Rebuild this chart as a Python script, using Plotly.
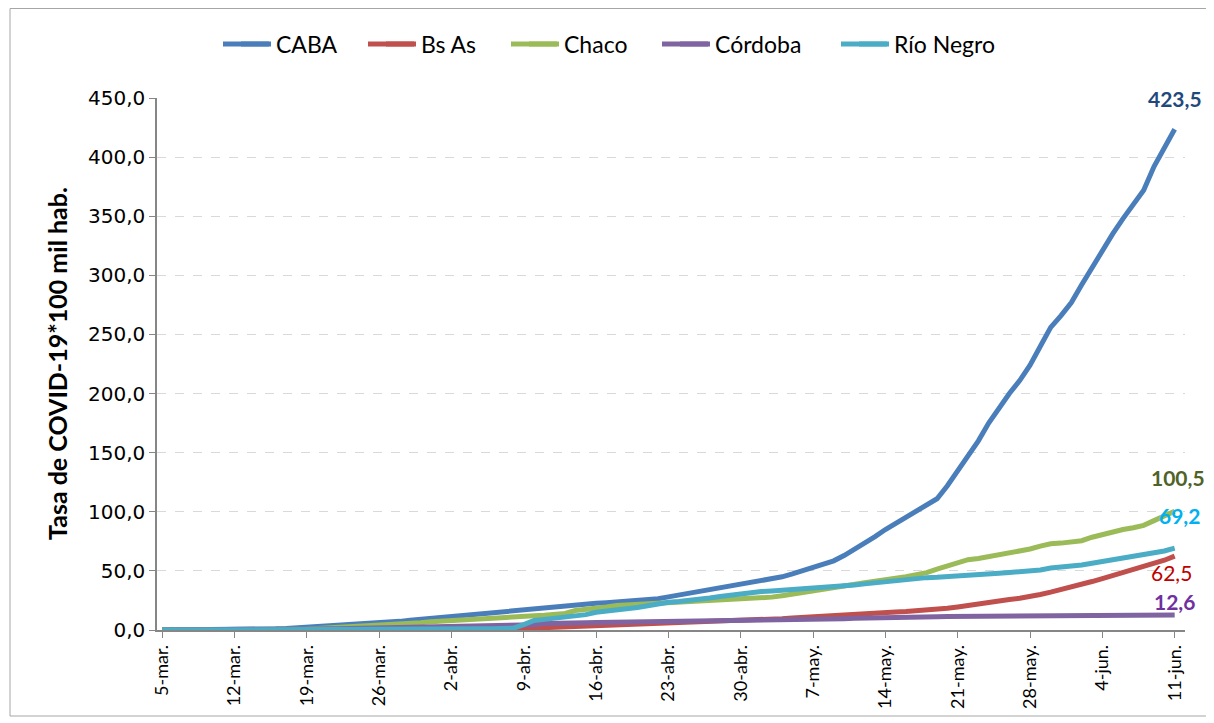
import pandas as pd
import plotly.graph_objects as go

start_date = "2020-03-05"
n_days = 99
dates = pd.date_range(start_date, periods=n_days, freq="D")

caba = [0, 0, 0, 0.1, 0.1, 0.2, 0.3,
        0.4, 0.5, 0.6, 0.8, 1.0, 1.3, 1.8,
        2.3, 2.7, 3.0, 3.5, 4.2, 4.8, 5.3,
        5.8, 6.5, 7.3, 8.2, 9.0, 9.8, 10.6,
        11.5, 12.3, 13.5, 14.5, 15.5, 16.3, 17.2,
        18.0, 18.8, 19.5, 20.2, 20.8, 21.4, 22.0,
        22.6, 23.1, 23.6, 24.2, 24.9, 25.7, 26.5,
        28.0, 29.5, 31.0, 32.8, 34.3, 35.6, 37.0,
        38.5, 40.0, 41.5, 43.0, 45.0, 47.5, 50.0,
        53.0, 56.0, 58.5, 63.0, 68.0, 73.0, 79.0,
        85.0, 90.0, 96.0, 101.0, 105.0, 111.0, 122.0,
        135.0, 147.0, 160.0, 175.0, 188.0, 200.0, 211.0,
        224.0, 240.0, 256.0, 266.0, 277.0, 292.0, 307.0,
        321.0, 335.0, 348.0, 360.0, 372.0, 392.0, 408.0,
        423.5]

bs_as = [0, 0, 0, 0, 0, 0, 0,
         0, 0, 0, 0, 0, 0.1, 0.1,
         0.1, 0.1, 0.1, 0.2, 0.2, 0.2, 0.2,
         0.3, 0.3, 0.3, 0.4, 0.4, 0.4, 0.5,
         0.5, 0.5, 0.6, 0.6, 0.7, 0.7, 1.0,
         1.3, 1.6, 1.9, 2.2, 2.5, 2.8, 3.1,
         3.4, 3.7, 4.0, 4.3, 4.6, 5.0, 5.4,
         5.8, 6.2, 6.6, 7.0, 7.3, 7.6, 8.0,
         8.3, 8.6, 8.8, 9.0, 9.6, 10.2, 10.8,
         11.4, 11.9, 12.5, 13.3, 13.8, 14.3, 14.7,
         15.0, 15.3, 15.6, 16.1, 16.7, 17.5, 18.4,
         19.5, 20.8, 22.5, 24.0, 25.0, 25.8, 26.8,
         28.0, 30.0, 32.0, 34.0, 36.0, 38.5, 41.0,
         43.5, 46.0, 48.5, 51.0, 53.5, 56.0, 59.0,
         62.5]

chaco = [0, 0, 0, 0, 0, 0, 0,
         0, 0, 0, 0.1, 0.2, 0.3, 0.5,
         0.8, 1.2, 1.6, 2.0, 2.5, 3.0, 3.4,
         3.8, 4.3, 4.8, 5.5, 6.2, 6.9, 7.5,
         8.0, 8.5, 9.0, 9.6, 10.2, 10.8, 11.2,
         11.6, 12.0, 12.4, 12.7, 14.0, 16.5, 17.2,
         18.0, 19.5, 20.8, 21.3, 21.8, 22.3, 22.6,
         23.0, 23.4, 23.8, 24.2, 24.7, 25.0, 25.4,
         25.8, 26.4, 27.0, 27.8, 29.0, 30.5, 32.0,
         33.3, 34.5, 36.0, 37.5, 38.7, 40.0, 41.3,
         42.3, 43.5, 45.0, 46.8, 48.5, 51.5, 54.5,
         57.5, 59.5, 60.5, 62.0, 63.0, 64.5, 66.5,
         68.5, 71.0, 73.0, 73.5, 74.0, 75.5, 78.5,
         81.0, 83.5, 85.0, 86.5, 88.5, 92.5, 96.5,
         100.5]

cordoba = [0, 0, 0, 0, 0, 0, 0,
           0, 0.1, 0.1, 0.2, 0.2, 0.3, 0.4,
           0.5, 0.6, 0.8, 1.0, 1.2, 1.4, 1.6,
           1.8, 2.0, 2.2, 2.4, 2.6, 2.8, 3.0,
           3.1, 3.2, 3.3, 3.4, 3.5, 3.6, 3.7,
           3.9, 4.5, 5.4, 5.8, 6.0, 6.1, 6.2,
           6.3, 6.4, 6.5, 6.6, 6.7, 6.8, 6.9,
           7.0, 7.1, 7.2, 7.3, 7.4, 7.5, 7.6,
           7.7, 7.8, 7.9, 8.0, 8.2, 8.4, 8.6,
           8.8, 9.0, 9.3, 9.6, 9.9, 10.2, 10.5,
           10.7, 10.9, 11.0, 11.1, 11.2, 11.3, 11.4,
           11.5, 11.6, 11.7, 11.8, 11.9, 12.0, 12.0,
           12.1, 12.1, 12.2, 12.2, 12.2, 12.3, 12.3,
           12.3, 12.4, 12.4, 12.4, 12.5, 12.5, 12.5,
           12.6]

rio_negro = [0, 0, 0, 0, 0, 0, 0,
             0, 0, 0, 0, 0.1, 0.1, 0.1,
             0.2, 0.2, 0.3, 0.3, 0.4, 0.4, 0.5,
             0.5, 0.6, 0.6, 0.7, 0.7, 0.8, 0.8,
             0.9, 0.9, 1.0, 1.0, 1.1, 1.2, 1.5,
             4.5, 8.0, 9.0, 9.8, 10.5, 11.5, 13.0,
             15.0, 15.8, 16.5, 17.5, 19.0, 20.5, 22.5,
             23.5, 24.2, 24.8, 25.6, 27.0, 28.3, 29.5,
             30.8, 31.8, 32.5, 33.0, 33.5, 34.2, 34.8,
             35.2, 35.5, 36.0, 37.0, 38.0, 39.0, 40.0,
             41.0, 42.0, 43.0, 43.8, 44.3, 44.6, 45.0,
             45.5, 46.0, 46.5, 47.2, 48.0, 48.6, 49.2,
             50.0, 50.8, 52.5, 53.2, 54.0, 55.0, 56.5,
             58.0, 59.0, 60.0, 61.5, 63.0, 64.8, 66.8,
             69.2]

series_names = ["CABA", "Bs As", "Chaco", "Córdoba", "Río Negro"]
series_values = [caba, bs_as, chaco, cordoba, rio_negro]
series_colors = ["#4A7EBB", "#C0504D", "#9BBB59", "#8064A2", "#4BACC6"]

label_colors = ["#1F497D", "#C00000", "#4F6228", "#7030A0", "#00B0F0"]
label_bold = [True, False, True, True, True]
label_yshift = [31, -16, 34, 14, 33]
label_xshift = [0, -3, 3, 0, 5]

y_title = "Tasa de COVID-19*100 mil hab."

tick_dates = ["2020-03-05", "2020-03-12", "2020-03-19", "2020-03-26", "2020-04-02",
              "2020-04-09", "2020-04-16", "2020-04-23", "2020-04-30", "2020-05-07",
              "2020-05-14", "2020-05-21", "2020-05-28", "2020-06-04", "2020-06-11"]
tick_labels = ["5-mar.", "12-mar.", "19-mar.", "26-mar.", "2-abr.", "9-abr.", "16-abr.",
               "23-abr.", "30-abr.", "7-may.", "14-may.", "21-may.", "28-may.", "4-jun.",
               "11-jun."]

FONT = "Lato"
OFF = 8  # page body margin
W, H = 1214 - OFF, 723 - OFF
L, T = 157 - OFF, 98 - OFF
R = W - (1185 - OFF)
B = H - (630 - OFF)
pw, ph = W - L - R, H - T - B

# legend entry left edges (figure px)
legend_x_px = [221 - OFF, 366 - OFF, 509 - OFF, 660 - OFF, 839 - OFF]
legend_y_px = 44 - OFF


def px_x(p):
    return (p - L) / pw


def px_y(p):
    return (H - B - p) / ph


fig = go.Figure()
legend_layouts = {}
for i, (name, vals, col) in enumerate(zip(series_names, series_values, series_colors)):
    lg = "legend" if i == 0 else f"legend{i + 1}"
    fig.add_trace(go.Scatter(x=dates, y=vals, mode="lines", name=name,
                             line=dict(color=col, width=5), legend=lg))
    legend_layouts[lg] = dict(xref="container", yref="container",
                              x=(legend_x_px[i] + 15) / W, xanchor="left",
                              y=1 - legend_y_px / H, yanchor="middle",
                              font=dict(family=FONT, size=23, color="black"),
                              bgcolor="rgba(0,0,0,0)", itemwidth=30)
    fig.add_shape(type="line", xref="paper", yref="paper",
                  x0=px_x(legend_x_px[i] + 2), x1=px_x(legend_x_px[i] + 48),
                  y0=px_y(legend_y_px), y1=px_y(legend_y_px),
                  line=dict(color=col, width=5))

for name, vals, col, bold, ys, xs in zip(series_names, series_values, label_colors,
                                         label_bold, label_yshift, label_xshift):
    txt = f"{vals[-1]:.1f}".replace(".", ",")
    if bold:
        txt = f"<b>{txt}</b>"
    fig.add_annotation(x=dates[-1], y=vals[-1], xref="x", yref="y", text=txt,
                       showarrow=False, yshift=ys, xshift=xs,
                       font=dict(family=FONT, size=21, color=col))

# y-axis title
fig.add_annotation(x=px_x(57 - OFF), y=0.5, xref="paper", yref="paper",
                   text=f"<b>{y_title}</b>", textangle=-90, showarrow=False,
                   xanchor="center", yanchor="middle",
                   font=dict(family=FONT, size=25, color="black"))

fig.add_shape(type="rect", xref="paper", yref="paper",
              x0=px_x(10 - OFF), x1=px_x(1209 - OFF),
              y0=px_y(716 - OFF), y1=px_y(0.5),
              line=dict(color="#A6A6A6", width=1), layer="below")

fig.update_layout(
    width=W, height=H,
    margin=dict(l=L, r=R, t=T, b=B, autoexpand=False),
    paper_bgcolor="white", plot_bgcolor="white",
    separators=",.",
    font=dict(family=FONT, color="black"),
    showlegend=True,
    xaxis=dict(type="date", range=["2020-03-04 12:00", "2020-06-12 00:00"],
               tickvals=tick_dates, ticktext=tick_labels, tickangle=-90,
               tickfont=dict(family=FONT, size=18, color="black"),
               showline=True, linecolor="#868686", linewidth=1.5,
               ticks="outside", ticklen=6, tickcolor="#868686",
               showgrid=False, zeroline=False, automargin=False),
    yaxis=dict(range=[0, 450], dtick=50, tickformat=".1f",
               tickfont=dict(family="DejaVu Sans", size=20, color="black"),
               showline=True, linecolor="#868686", linewidth=1.5,
               ticks="outside", ticklen=6, tickcolor="#868686",
               showgrid=True, gridcolor="#D9D9D9", griddash="dash", gridwidth=1,
               zeroline=False, automargin=False),
    **legend_layouts,
)

fig.write_html("out.html", config={"displayModeBar": False})
